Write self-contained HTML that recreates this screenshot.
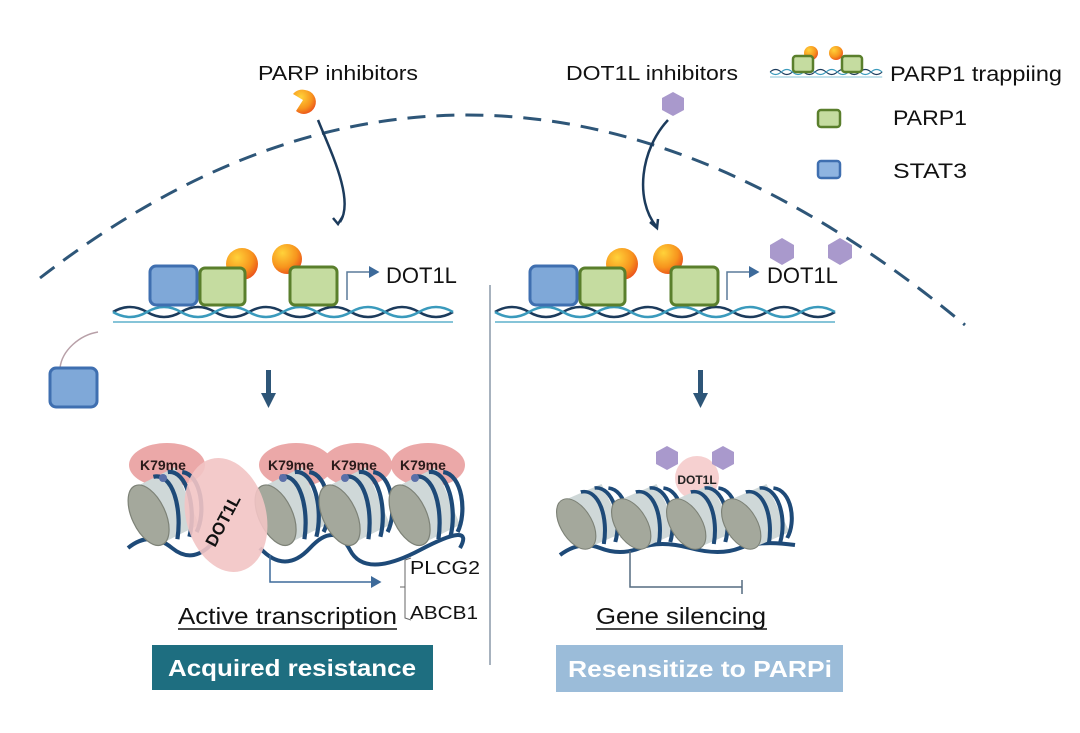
<!DOCTYPE html>
<html><head><meta charset="utf-8"><style>
body{margin:0;background:#fff;}
svg{display:block;font-family:"Liberation Sans",sans-serif;}
</style></head><body>
<svg width="1080" height="733" viewBox="0 0 1080 733" xmlns="http://www.w3.org/2000/svg">
<defs>
<radialGradient id="og" cx="0.35" cy="0.3" r="0.8"><stop offset="0" stop-color="#ffd23a"/><stop offset="0.6" stop-color="#f7941d"/><stop offset="1" stop-color="#e8461c"/></radialGradient>
<marker id="ah" markerWidth="8" markerHeight="8" refX="6" refY="4" orient="auto"><path d="M0,0 L7,4 L0,8 z" fill="#3d6a9a"/></marker>
<g id="nuc">
<path d="M-22,-18 L10,-34 L30,14 L-2,30 z" fill="#cfd8d8"/>
<ellipse cx="-12" cy="6" rx="14" ry="27" transform="rotate(-25 -12 6)" fill="#a4a89c" stroke="#7d8277" stroke-width="1"/>
<path d="M-8,-26 C8,-30 16,0 12,26" fill="none" stroke="#1e4a78" stroke-width="3.5"/>
<path d="M4,-30 C20,-32 28,0 22,24" fill="none" stroke="#1e4a78" stroke-width="3.5"/>
<path d="M16,-30 C32,-28 36,4 28,20" fill="none" stroke="#1e4a78" stroke-width="3.5"/>
</g>
<g id="dna">
<path d="M0,0 q17,-10 34,0 t34,0 t34,0 t34,0 t34,0 t34,0 t34,0 t34,0 t34,0 t34,0" fill="none" stroke="#1c3b5c" stroke-width="2.5"/>
<path d="M0,0 q17,10 34,0 t34,0 t34,0 t34,0 t34,0 t34,0 t34,0 t34,0 t34,0 t34,0" fill="none" stroke="#3a9abc" stroke-width="2.5"/>
<path d="M0,10 L340,10" stroke="#5fb0cc" stroke-width="1.5"/>
</g>
</defs>

<path d="M40 278 Q 490 -70 965 325" fill="none" stroke="#2e5678" stroke-width="3" stroke-dasharray="18 11"/>
<line x1="490" y1="285" x2="490" y2="665" stroke="#8a98a8" stroke-width="1.5"/>

<text x="258" y="80" font-size="20" fill="#111" textLength="160" lengthAdjust="spacingAndGlyphs">PARP inhibitors</text>
<path d="M305 90 A12 12 0 1 1 296 111 L303 100 L293 94 A12 12 0 0 1 305 90 z" fill="url(#og)"/>
<path d="M318 120 C330 150 355 200 340 222" fill="none" stroke="#1c3b5c" stroke-width="2.5"/>
<path d="M343 216 L338 224 L333 218" fill="none" stroke="#1c3b5c" stroke-width="2.5"/>
<text x="566" y="80" font-size="20" fill="#111" textLength="172" lengthAdjust="spacingAndGlyphs">DOT1L inhibitors</text>
<polygon points="673,92 684,98 684,110 673,116 662,110 662,98" fill="#a999cc"/>
<path d="M668 120 C640 150 635 200 656 226" fill="none" stroke="#1c3b5c" stroke-width="2.5"/>
<path d="M650 222 L657 228 L658 219" fill="none" stroke="#1c3b5c" stroke-width="2.5"/>

<use href="#dna" transform="translate(770,72) scale(0.33,0.5)"/>
<circle cx="811" cy="53" r="7" fill="url(#og)"/><circle cx="836" cy="53" r="7" fill="url(#og)"/>
<rect x="793" y="56" width="20" height="16" rx="3" fill="#c5dca0" stroke="#5a7f2c" stroke-width="2.5"/>
<rect x="842" y="56" width="20" height="16" rx="3" fill="#c5dca0" stroke="#5a7f2c" stroke-width="2.5"/>
<text x="890" y="81" font-size="21" fill="#111" textLength="172" lengthAdjust="spacingAndGlyphs">PARP1 trappiing</text>
<rect x="818" y="110" width="22" height="17" rx="3" fill="#c5dca0" stroke="#5a7f2c" stroke-width="2.5"/>
<text x="893" y="125" font-size="21" fill="#111" textLength="74" lengthAdjust="spacingAndGlyphs">PARP1</text>
<rect x="818" y="161" width="22" height="17" rx="3" fill="#8fb4e0" stroke="#3f6fb0" stroke-width="2.5"/>
<text x="893" y="178" font-size="21" fill="#111" textLength="74" lengthAdjust="spacingAndGlyphs">STAT3</text>

<use href="#dna" transform="translate(113,312)"/>
<rect x="150" y="266" width="47" height="39" rx="6" fill="#7fa8d8" stroke="#3f6fb0" stroke-width="3"/>
<circle cx="242" cy="264" r="16" fill="url(#og)"/><circle cx="287" cy="259" r="15" fill="url(#og)"/>
<rect x="200" y="268" width="45" height="37" rx="5" fill="#c5dca0" stroke="#5a7f2c" stroke-width="3"/>
<rect x="290" y="267" width="47" height="38" rx="5" fill="#c5dca0" stroke="#5a7f2c" stroke-width="3"/>
<path d="M347 300 L347 272 L378 272" fill="none" stroke="#5a7a9a" stroke-width="1.5" marker-end="url(#ah)"/>
<text x="386" y="283" font-size="22" fill="#111">DOT1L</text>
<path d="M60 368 C62 350 80 335 98 332" fill="none" stroke="#b8a0a8" stroke-width="1.5"/>
<rect x="50" y="368" width="47" height="39" rx="6" fill="#7fa8d8" stroke="#3f6fb0" stroke-width="3"/>

<use href="#dna" transform="translate(495,312)"/>
<rect x="530" y="266" width="47" height="39" rx="6" fill="#7fa8d8" stroke="#3f6fb0" stroke-width="3"/>
<circle cx="622" cy="264" r="16" fill="url(#og)"/><circle cx="668" cy="259" r="15" fill="url(#og)"/>
<rect x="580" y="268" width="45" height="37" rx="5" fill="#c5dca0" stroke="#5a7f2c" stroke-width="3"/>
<rect x="671" y="267" width="47" height="38" rx="5" fill="#c5dca0" stroke="#5a7f2c" stroke-width="3"/>
<path d="M727 300 L727 272 L758 272" fill="none" stroke="#5a7a9a" stroke-width="1.5" marker-end="url(#ah)"/>
<text x="767" y="283" font-size="22" fill="#111">DOT1L</text>
<polygon points="782,238 794,245 794,258 782,265 770,258 770,245" fill="#a999cc"/>
<polygon points="840,238 852,245 852,258 840,265 828,258 828,245" fill="#a999cc"/>

<rect x="266" y="370" width="5" height="24" fill="#2e5678"/><path d="M261 393 L276 393 L268.5 408 z" fill="#2e5678"/>
<rect x="698" y="370" width="5" height="24" fill="#2e5678"/><path d="M693 393 L708 393 L700.5 408 z" fill="#2e5678"/>

<ellipse cx="167" cy="465" rx="38" ry="22" fill="#eba8a8"/>
<ellipse cx="296" cy="465" rx="37" ry="22" fill="#eba8a8"/>
<ellipse cx="357" cy="465" rx="35" ry="22" fill="#eba8a8"/>
<ellipse cx="428" cy="465" rx="37" ry="22" fill="#eba8a8"/>
<path d="M128 548 Q150 530 172 548 T215 540 M260 548 Q285 575 310 548 T350 550 T420 550 T460 548" fill="none" stroke="#1e4a78" stroke-width="4"/>
<use href="#nuc" transform="translate(163,508) scale(1.2)"/>
<use href="#nuc" transform="translate(290,508) scale(1.2)"/>
<use href="#nuc" transform="translate(354,508) scale(1.2)"/>
<use href="#nuc" transform="translate(424,508) scale(1.2)"/>
<ellipse cx="226" cy="515" rx="40" ry="58" transform="rotate(-15 226 515)" fill="#f2c4c4" opacity="0.9"/>
<text x="0" y="0" font-size="17" font-weight="bold" fill="#111" transform="translate(215,548) rotate(-62)">DOT1L</text>
<circle cx="163" cy="478" r="4" fill="#5b6fa8"/><circle cx="283" cy="478" r="4" fill="#5b6fa8"/><circle cx="345" cy="478" r="4" fill="#5b6fa8"/><circle cx="415" cy="478" r="4" fill="#5b6fa8"/>
<g font-size="14" font-weight="bold" fill="#2a1a1a">
<text x="140" y="470">K79me</text><text x="268" y="470">K79me</text><text x="331" y="470">K79me</text><text x="400" y="470">K79me</text></g>
<path d="M270 555 L270 582 L380 582" fill="none" stroke="#3d6a9a" stroke-width="1.5" marker-end="url(#ah)"/>
<path d="M411 558 L405 560 L405 618 L411 620 M400 587 L405 587" fill="none" stroke="#666" stroke-width="1"/>
<text x="410" y="574" font-size="18" fill="#111" textLength="70" lengthAdjust="spacingAndGlyphs">PLCG2</text>
<text x="410" y="619" font-size="18" fill="#111" textLength="68" lengthAdjust="spacingAndGlyphs">ABCB1</text>
<text x="178" y="624" font-size="23" fill="#111" textLength="219" lengthAdjust="spacingAndGlyphs">Active transcription</text>
<line x1="178" y1="629" x2="397" y2="629" stroke="#111" stroke-width="1.5"/>
<rect x="152" y="645" width="281" height="45" fill="#1e6e80"/>
<text x="168" y="676" font-size="23" font-weight="bold" fill="#fff" textLength="248" lengthAdjust="spacingAndGlyphs">Acquired resistance</text>

<circle cx="697" cy="478" r="22" fill="#f6d0d0"/>
<polygon points="667,446 678,452 678,464 667,470 656,464 656,452" fill="#a999cc"/>
<polygon points="723,446 734,452 734,464 723,470 712,464 712,452" fill="#a999cc"/>
<path d="M560 555 Q580 540 600 548 T640 548 T690 548 T740 548 T795 545" fill="none" stroke="#1e4a78" stroke-width="4"/>
<use href="#nuc" transform="translate(590,518) scale(1.15,1.0)"/>
<use href="#nuc" transform="translate(645,518) scale(1.15,1.0)"/>
<use href="#nuc" transform="translate(700,518) scale(1.15,1.0)"/>
<use href="#nuc" transform="translate(755,518) scale(1.15,1.0)"/>
<text x="697" y="484" font-size="12" font-weight="bold" fill="#222" text-anchor="middle">DOT1L</text>
<path d="M630 551 L630 587 L742 587 M742 580 L742 594" fill="none" stroke="#556b80" stroke-width="1.5"/>
<text x="596" y="624" font-size="23" fill="#111" textLength="170" lengthAdjust="spacingAndGlyphs">Gene silencing</text>
<line x1="596" y1="629" x2="767" y2="629" stroke="#111" stroke-width="1.5"/>
<rect x="556" y="645" width="287" height="47" fill="#9bbcd9"/>
<text x="568" y="677" font-size="23" font-weight="bold" fill="#fff" textLength="264" lengthAdjust="spacingAndGlyphs">Resensitize to PARPi</text>
</svg>
</body></html>
